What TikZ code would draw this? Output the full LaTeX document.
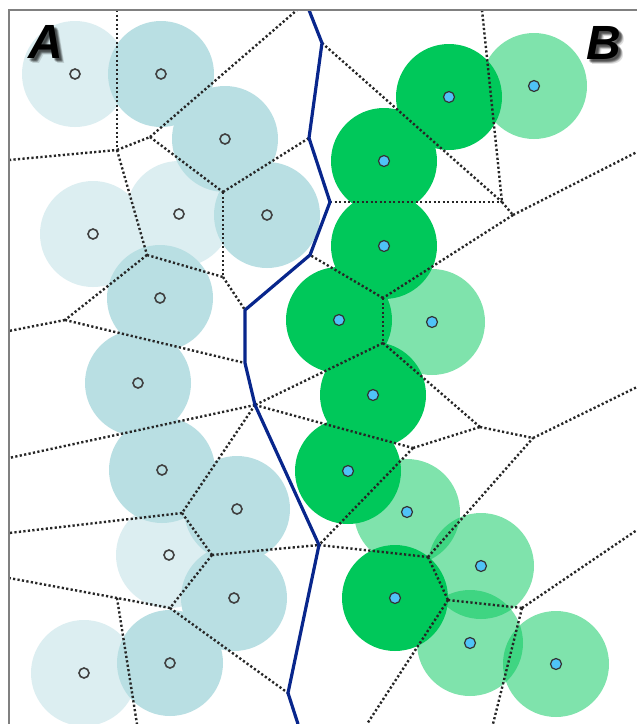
\documentclass[tikz,border=0pt]{standalone}
\usepackage{fontspec}
\setmainfont{Liberation Sans}
\definecolor{Alight}{RGB}{220,238,241}
\definecolor{Adark}{RGB}{185,223,227}
\definecolor{Gdark}{RGB}{0,200,90}
\definecolor{Bline}{RGB}{8,38,140}
\definecolor{Bdot}{RGB}{79,195,247}
\definecolor{Frame}{RGB}{128,128,128}
\begin{document}
\begin{tikzpicture}[x=1pt,y=-1pt,
  vor/.style={draw=black!85,line width=2.4pt,dash pattern=on 2.2pt off 2.3pt},
  bnd/.style={draw=Bline,line width=3.2pt,line join=round},
  amark/.style={circle,draw=black!75,line width=1.6pt,minimum size=10pt,inner sep=0pt},
  bmark/.style={circle,draw=black!80,fill=Bdot,line width=1.2pt,minimum size=11pt,inner sep=0pt},
  lbl/.style={anchor=base,inner sep=0pt,font=\fontsize{48}{48}\selectfont\bfseries\itshape}
]
\useasboundingbox (0,0) rectangle (637,724);
\fill[white] (0,0) rectangle (637,724);
\begin{scope}
\clip (9,10) rectangle (637,724);
% A circles
\foreach \x/\y in {75/74,179/214,93/234,169/555,84/673}
  \fill[Alight] (\x,\y) circle[radius=53pt];
\foreach \x/\y in {161/74,225/139,267/215,160/298,138/383,162/470,237/509,234/598,170/663}
  \fill[Adark] (\x,\y) circle[radius=53pt];
% B circles
\foreach \x/\y in {534/86,432/322,407/512,481/566,470/643,556/664}
  \fill[Gdark,opacity=0.5] (\x,\y) circle[radius=53pt];
\foreach \x/\y in {449/97,384/161,384/246,339/320,373/395,348/471,395/598}
  \fill[Gdark] (\x,\y) circle[radius=53pt];

% Voronoi vertices
\coordinate (t1) at (117,10);
\coordinate (v1) at (117,150);
\coordinate (l1) at (9,160);
\coordinate (v2) at (150,137);
\coordinate (t2) at (297,10);
\coordinate (v3) at (223,192);
\coordinate (v4) at (147,255);
\coordinate (v5) at (223,277);
\coordinate (v6) at (65,320);
\coordinate (l2) at (9,331);
\coordinate (l3) at (9,458);
\coordinate (v7) at (182,513);
\coordinate (l4) at (9,533);
\coordinate (v8) at (212,555);
\coordinate (v9) at (170,608);
\coordinate (v10) at (117,598);
\coordinate (l5) at (9,578);
\coordinate (d1) at (137,724);
\coordinate (t3) at (482,10);
\coordinate (v11) at (502,202);
\coordinate (v12) at (513,215);
\coordinate (r1) at (637,152);
\coordinate (v13) at (383,298);
\coordinate (v14) at (383,343);
\coordinate (v15) at (480,427);
\coordinate (v16) at (533,438);
\coordinate (r2) at (637,387);
\coordinate (v17) at (413,448);
\coordinate (v18) at (428,557);
\coordinate (v19) at (448,600);
\coordinate (d2) at (367,724);
\coordinate (v20) at (522,608);
\coordinate (r3) at (637,530);
\coordinate (d3) at (493,724);
% boundary vertices
\coordinate (q0) at (309,10);
\coordinate (q1) at (322,43);
\coordinate (q2) at (309,138);
\coordinate (q3) at (330,202);
\coordinate (q4) at (310,255);
\coordinate (q5) at (245,310);
\coordinate (q6) at (245,363);
\coordinate (q7) at (255,405);
\coordinate (q8) at (319,545);
\coordinate (q9) at (288,693);
\coordinate (q10) at (298,724);

% dotted Voronoi edges
\foreach \a/\b in {t1/v1,l1/v1,v1/v2,v2/t2,v2/v3,v3/q2,v1/v4,v3/v5,v4/v5,v5/q5,v4/v6,v6/l2,v6/q6,
  q7/l3,q7/v7,v7/l4,v7/v8,v8/q8,v8/v9,v9/v10,v10/l5,v10/d1,v9/q9,
  q1/v11,t3/v11,q3/v11,v11/v12,v12/r1,v12/v13,v13/q4,v13/v14,v14/q7,v14/v15,v15/v16,v16/r2,
  q7/v17,v17/v15,v17/q8,q8/v18,v18/v16,v18/v19,v19/d2,v19/v20,v20/r3,v20/d3}
  \draw[vor] (\a) -- (\b);

% A/B boundary
\draw[bnd] (q0) -- (q1) -- (q2) -- (q3) -- (q4) -- (q5) -- (q6) -- (q7) -- (q8) -- (q9) -- (q10);
\end{scope}

% frame
\draw[Frame,line width=1.6pt] (9,724) -- (9,10) -- (637,10);

% site markers
\foreach \x/\y [count=\i] in {75/74,161/74,225/139,179/214,93/234,267/215,160/298,138/383,162/470,237/509,169/555,234/598,84/673,170/663}
  \node[amark] (a\i) at (\x,\y) {};
\foreach \x/\y [count=\i] in {449/97,534/86,384/161,384/246,339/320,432/322,373/395,348/471,407/512,481/566,395/598,470/643,556/664}
  \node[bmark] (b\i) at (\x,\y) {};

% labels with soft shadow
\foreach \dx/\dy [count=\i] in {2/2,3/3,4/4,3/2,2/3,4/3,3/4,5/5}
  {\node[lbl,text=black,opacity=0.13] (sa\i) at (46+\dx,58+\dy) {A};
   \node[lbl,text=black,opacity=0.13] (sb\i) at (604+\dx,59+\dy) {B};}
\node[lbl] (la) at (46,58) {A};
\node[lbl] (lb) at (604,59) {B};
\end{tikzpicture}
\end{document}
